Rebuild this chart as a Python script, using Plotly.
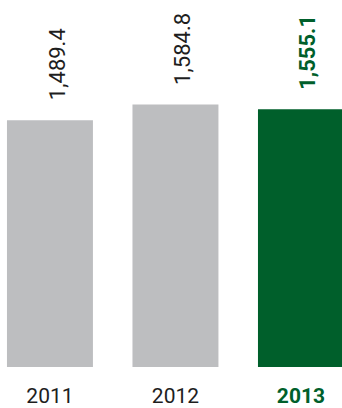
import plotly.graph_objects as go

# Total values by year
years = ["2011", "2012", "2013"]
values = [1489.4, 1584.8, 1555.1]
value_labels = ["1,489.4", "1,584.8", "1,555.1"]

GRAY = "#BDBEC0"
GREEN = "#005F2B"
INK = "#1E1E1E"
FONT = "Roboto, sans-serif"

positions = list(range(len(years)))
bar_colors = [GRAY, GRAY, GREEN]
tick_text = [years[0], years[1], f"<b><span style='color:{GREEN}'>{years[2]}</span></b>"]

fig = go.Figure(
    go.Bar(
        x=positions,
        y=values,
        width=0.685,
        marker=dict(color=bar_colors, line=dict(width=0)),
        hoverinfo="skip",
    )
)

# Rotated value labels above each bar
for i, (v, lab) in enumerate(zip(values, value_labels)):
    last = i == len(years) - 1
    fig.add_annotation(
        x=positions[i],
        y=v,
        xref="x",
        yref="y",
        text=f"<b>{lab}</b>" if last else lab,
        textangle=-90,
        showarrow=False,
        xanchor="center",
        yanchor="bottom",
        yshift=18,
        xshift=7,
        font=dict(family=FONT, size=22, color=GREEN if last else INK),
    )

fig.update_layout(
    width=342,
    height=408,
    margin=dict(l=0, r=0, t=0, b=39),
    paper_bgcolor="white",
    plot_bgcolor="white",
    showlegend=False,
    font=dict(family=FONT, size=22, color=INK),
)
fig.update_xaxes(
    range=[-0.398, 2.327],
    tickmode="array",
    tickvals=positions,
    ticktext=tick_text,
    showgrid=False,
    showline=False,
    zeroline=False,
    ticks="",
    ticklabelstandoff=14,
    tickfont=dict(family=FONT, size=21, color=INK),
)
fig.update_yaxes(
    range=[0, 2215],
    visible=False,
    showgrid=False,
    zeroline=False,
)

fig.write_html("out.html")
